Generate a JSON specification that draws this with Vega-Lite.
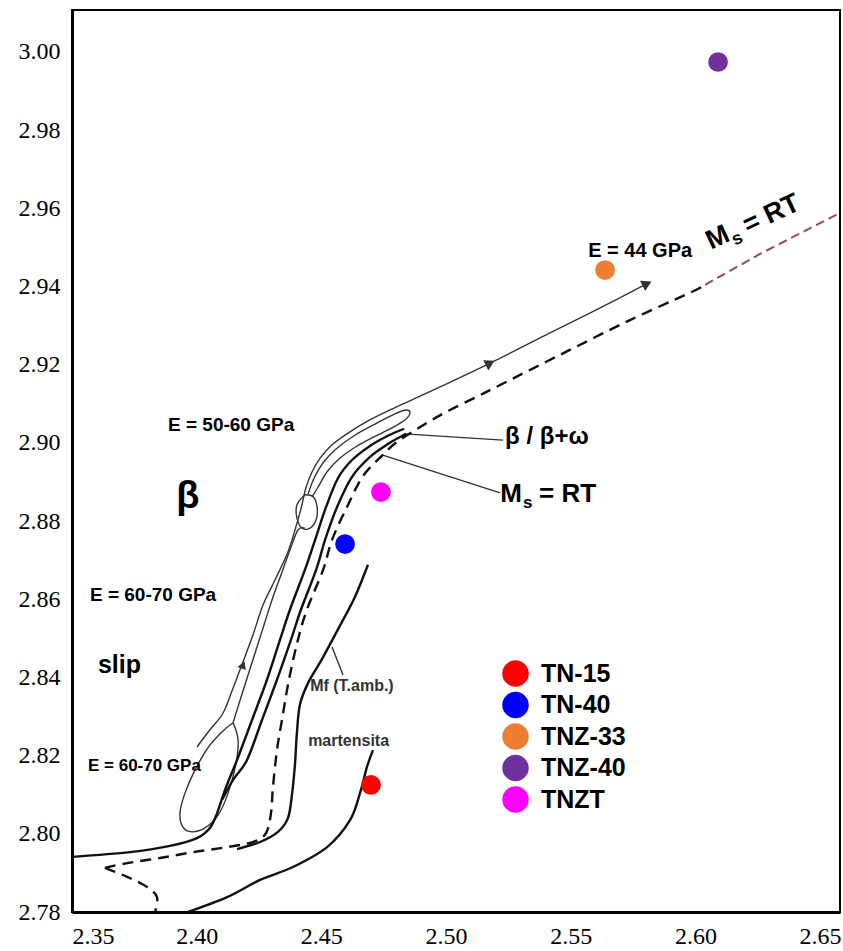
{
  "$schema": "https://vega.github.io/schema/vega-lite/v6.json",
  "width": 768,
  "height": 902,
  "autosize": {"type": "none"},
  "padding": {"left": 72, "top": 10, "right": 3, "bottom": 39},
  "background": "white",
  "config": {
    "view": {"stroke": "black", "strokeWidth": 2},
    "axis": {"grid": false, "ticks": false, "domainColor": "black", "domainWidth": 3, "labelFont": "Liberation Serif", "labelFontSize": 24, "labelColor": "black", "labelPadding": 12, "title": null}
  },
  "datasets": {
    "thick": [
      {"c": "T1", "i": 0, "x": 2.3500, "y": 2.7941}, {"c": "T1", "i": 1, "x": 2.3733, "y": 2.7953}, {"c": "T1", "i": 2, "x": 2.3893, "y": 2.7969}, {"c": "T1", "i": 3, "x": 2.4001, "y": 2.7989}, {"c": "T1", "i": 4, "x": 2.4053, "y": 2.8015}, {"c": "T1", "i": 5, "x": 2.4082, "y": 2.8053}, {"c": "T1", "i": 6, "x": 2.4118, "y": 2.8120}, {"c": "T1", "i": 7, "x": 2.4162, "y": 2.8189}, {"c": "T1", "i": 8, "x": 2.4222, "y": 2.8291}, {"c": "T1", "i": 9, "x": 2.4282, "y": 2.8394}, {"c": "T1", "i": 10, "x": 2.4334, "y": 2.8496}, {"c": "T1", "i": 11, "x": 2.4374, "y": 2.8573}, {"c": "T1", "i": 12, "x": 2.4434, "y": 2.8675}, {"c": "T1", "i": 13, "x": 2.4475, "y": 2.8752}, {"c": "T1", "i": 14, "x": 2.4519, "y": 2.8836}, {"c": "T1", "i": 15, "x": 2.4567, "y": 2.8910}, {"c": "T1", "i": 16, "x": 2.4623, "y": 2.8956}, {"c": "T1", "i": 17, "x": 2.4695, "y": 2.8992}, {"c": "T1", "i": 18, "x": 2.4767, "y": 2.9018}, {"c": "T1", "i": 19, "x": 2.4832, "y": 2.9036},
      {"c": "T2", "i": 0, "x": 2.4102, "y": 2.8087}, {"c": "T2", "i": 1, "x": 2.4146, "y": 2.8138}, {"c": "T2", "i": 2, "x": 2.4202, "y": 2.8189}, {"c": "T2", "i": 3, "x": 2.4262, "y": 2.8291}, {"c": "T2", "i": 4, "x": 2.4322, "y": 2.8394}, {"c": "T2", "i": 5, "x": 2.4378, "y": 2.8496}, {"c": "T2", "i": 6, "x": 2.4418, "y": 2.8573}, {"c": "T2", "i": 7, "x": 2.4479, "y": 2.8675}, {"c": "T2", "i": 8, "x": 2.4515, "y": 2.8752}, {"c": "T2", "i": 9, "x": 2.4563, "y": 2.8836}, {"c": "T2", "i": 10, "x": 2.4623, "y": 2.8913}, {"c": "T2", "i": 11, "x": 2.4695, "y": 2.8964}, {"c": "T2", "i": 12, "x": 2.4767, "y": 2.8997}, {"c": "T2", "i": 13, "x": 2.4816, "y": 2.9015}, {"c": "T2", "i": 14, "x": 2.4840, "y": 2.9023},
      {"c": "Mf", "i": 0, "x": 2.4162, "y": 2.7961}, {"c": "Mf", "i": 1, "x": 2.4254, "y": 2.7979}, {"c": "Mf", "i": 2, "x": 2.4326, "y": 2.8005}, {"c": "Mf", "i": 3, "x": 2.4366, "y": 2.8040}, {"c": "Mf", "i": 4, "x": 2.4382, "y": 2.8099}, {"c": "Mf", "i": 5, "x": 2.4394, "y": 2.8176}, {"c": "Mf", "i": 6, "x": 2.4402, "y": 2.8258}, {"c": "Mf", "i": 7, "x": 2.4414, "y": 2.8330}, {"c": "Mf", "i": 8, "x": 2.4447, "y": 2.8386}, {"c": "Mf", "i": 9, "x": 2.4507, "y": 2.8452}, {"c": "Mf", "i": 10, "x": 2.4587, "y": 2.8547}, {"c": "Mf", "i": 11, "x": 2.4635, "y": 2.8606}, {"c": "Mf", "i": 12, "x": 2.4687, "y": 2.8688},
      {"c": "Mart", "i": 0, "x": 2.3965, "y": 2.7800}, {"c": "Mart", "i": 1, "x": 2.4122, "y": 2.7838}, {"c": "Mart", "i": 2, "x": 2.4254, "y": 2.7882}, {"c": "Mart", "i": 3, "x": 2.4386, "y": 2.7915}, {"c": "Mart", "i": 4, "x": 2.4523, "y": 2.7966}, {"c": "Mart", "i": 5, "x": 2.4615, "y": 2.8035}, {"c": "Mart", "i": 6, "x": 2.4655, "y": 2.8104}, {"c": "Mart", "i": 7, "x": 2.4683, "y": 2.8171}, {"c": "Mart", "i": 8, "x": 2.4707, "y": 2.8214}
    ],
    "thin": [
      {"c": "L1", "i": 0, "x": 2.4001, "y": 2.8222}, {"c": "L1", "i": 1, "x": 2.4053, "y": 2.8266}, {"c": "L1", "i": 2, "x": 2.4106, "y": 2.8309}, {"c": "L1", "i": 3, "x": 2.4146, "y": 2.8373}, {"c": "L1", "i": 4, "x": 2.4186, "y": 2.8440}, {"c": "L1", "i": 5, "x": 2.4226, "y": 2.8509}, {"c": "L1", "i": 6, "x": 2.4266, "y": 2.8585}, {"c": "L1", "i": 7, "x": 2.4314, "y": 2.8649}, {"c": "L1", "i": 8, "x": 2.4366, "y": 2.8721}, {"c": "L1", "i": 9, "x": 2.4398, "y": 2.8785}, {"c": "L1", "i": 10, "x": 2.4422, "y": 2.8841}, {"c": "L1", "i": 11, "x": 2.4438, "y": 2.8885}, {"c": "L1", "i": 12, "x": 2.4463, "y": 2.8926}, {"c": "L1", "i": 13, "x": 2.4495, "y": 2.8961}, {"c": "L1", "i": 14, "x": 2.4543, "y": 2.8995}, {"c": "L1", "i": 15, "x": 2.4607, "y": 2.9025}, {"c": "L1", "i": 16, "x": 2.4687, "y": 2.9056}, {"c": "L1", "i": 17, "x": 2.4775, "y": 2.9084}, {"c": "L1", "i": 18, "x": 2.4864, "y": 2.9110}, {"c": "L1", "i": 19, "x": 2.4976, "y": 2.9143}, {"c": "L1", "i": 20, "x": 2.5177, "y": 2.9204}, {"c": "L1", "i": 21, "x": 2.5417, "y": 2.9281}, {"c": "L1", "i": 22, "x": 2.5618, "y": 2.9345}, {"c": "L1", "i": 23, "x": 2.5806, "y": 2.9407},
      {"c": "L2", "i": 0, "x": 2.4146, "y": 2.8284}, {"c": "L2", "i": 1, "x": 2.4174, "y": 2.8342}, {"c": "L2", "i": 2, "x": 2.4206, "y": 2.8406}, {"c": "L2", "i": 3, "x": 2.4238, "y": 2.8470}, {"c": "L2", "i": 4, "x": 2.4270, "y": 2.8534}, {"c": "L2", "i": 5, "x": 2.4302, "y": 2.8598}, {"c": "L2", "i": 6, "x": 2.4338, "y": 2.8662}, {"c": "L2", "i": 7, "x": 2.4374, "y": 2.8726}, {"c": "L2", "i": 8, "x": 2.4406, "y": 2.8777}, {"c": "L2", "i": 9, "x": 2.4434, "y": 2.8782},
      {"c": "E1", "i": 0, "x": 2.4146, "y": 2.8284}, {"c": "E1", "i": 1, "x": 2.4102, "y": 2.8261}, {"c": "E1", "i": 2, "x": 2.4045, "y": 2.8220}, {"c": "E1", "i": 3, "x": 2.3993, "y": 2.8163}, {"c": "E1", "i": 4, "x": 2.3953, "y": 2.8104}, {"c": "E1", "i": 5, "x": 2.3933, "y": 2.8053}, {"c": "E1", "i": 6, "x": 2.3945, "y": 2.8017}, {"c": "E1", "i": 7, "x": 2.3981, "y": 2.8005}, {"c": "E1", "i": 8, "x": 2.4033, "y": 2.8015}, {"c": "E1", "i": 9, "x": 2.4086, "y": 2.8048}, {"c": "E1", "i": 10, "x": 2.4126, "y": 2.8104}, {"c": "E1", "i": 11, "x": 2.4158, "y": 2.8181}, {"c": "E1", "i": 12, "x": 2.4166, "y": 2.8240}, {"c": "E1", "i": 13, "x": 2.4146, "y": 2.8284},
      {"c": "E2", "i": 0, "x": 2.4434, "y": 2.8867}, {"c": "E2", "i": 1, "x": 2.4467, "y": 2.8862}, {"c": "E2", "i": 2, "x": 2.4483, "y": 2.8836}, {"c": "E2", "i": 3, "x": 2.4479, "y": 2.8803}, {"c": "E2", "i": 4, "x": 2.4455, "y": 2.8782}, {"c": "E2", "i": 5, "x": 2.4422, "y": 2.8782}, {"c": "E2", "i": 6, "x": 2.4402, "y": 2.8808}, {"c": "E2", "i": 7, "x": 2.4402, "y": 2.8841}, {"c": "E2", "i": 8, "x": 2.4434, "y": 2.8867},
      {"c": "LP", "i": 0, "x": 2.4447, "y": 2.8869}, {"c": "LP", "i": 1, "x": 2.4471, "y": 2.8910}, {"c": "LP", "i": 2, "x": 2.4507, "y": 2.8949}, {"c": "LP", "i": 3, "x": 2.4559, "y": 2.8984}, {"c": "LP", "i": 4, "x": 2.4631, "y": 2.9018}, {"c": "LP", "i": 5, "x": 2.4715, "y": 2.9048}, {"c": "LP", "i": 6, "x": 2.4795, "y": 2.9074}, {"c": "LP", "i": 7, "x": 2.4840, "y": 2.9084}, {"c": "LP", "i": 8, "x": 2.4856, "y": 2.9077}, {"c": "LP", "i": 9, "x": 2.4836, "y": 2.9059}, {"c": "LP", "i": 10, "x": 2.4783, "y": 2.9038}, {"c": "LP", "i": 11, "x": 2.4711, "y": 2.9015}, {"c": "LP", "i": 12, "x": 2.4639, "y": 2.8990}, {"c": "LP", "i": 13, "x": 2.4575, "y": 2.8961}, {"c": "LP", "i": 14, "x": 2.4523, "y": 2.8926}, {"c": "LP", "i": 15, "x": 2.4487, "y": 2.8887}, {"c": "LP", "i": 16, "x": 2.4463, "y": 2.8862},
      {"c": "P1", "i": 0, "x": 2.4832, "y": 2.9023}, {"c": "P1", "i": 1, "x": 2.5229, "y": 2.9007},
      {"c": "P2", "i": 0, "x": 2.4743, "y": 2.8969}, {"c": "P2", "i": 1, "x": 2.5217, "y": 2.8872},
      {"c": "P3", "i": 0, "x": 2.4587, "y": 2.8406}, {"c": "P3", "i": 1, "x": 2.4543, "y": 2.8478}
    ],
    "dash": [
      {"c": "D", "i": 0, "x": 2.3632, "y": 2.7913}, {"c": "D", "i": 1, "x": 2.3721, "y": 2.7925}, {"c": "D", "i": 2, "x": 2.3853, "y": 2.7938}, {"c": "D", "i": 3, "x": 2.3985, "y": 2.7953}, {"c": "D", "i": 4, "x": 2.4122, "y": 2.7966}, {"c": "D", "i": 5, "x": 2.4226, "y": 2.7979}, {"c": "D", "i": 6, "x": 2.4278, "y": 2.8002}, {"c": "D", "i": 7, "x": 2.4298, "y": 2.8053}, {"c": "D", "i": 8, "x": 2.4306, "y": 2.8120}, {"c": "D", "i": 9, "x": 2.4322, "y": 2.8214}, {"c": "D", "i": 10, "x": 2.4342, "y": 2.8291}, {"c": "D", "i": 11, "x": 2.4370, "y": 2.8394}, {"c": "D", "i": 12, "x": 2.4406, "y": 2.8496}, {"c": "D", "i": 13, "x": 2.4442, "y": 2.8573}, {"c": "D", "i": 14, "x": 2.4507, "y": 2.8675}, {"c": "D", "i": 15, "x": 2.4543, "y": 2.8752}, {"c": "D", "i": 16, "x": 2.4603, "y": 2.8836}, {"c": "D", "i": 17, "x": 2.4667, "y": 2.8915}, {"c": "D", "i": 18, "x": 2.4747, "y": 2.8969}, {"c": "D", "i": 19, "x": 2.4803, "y": 2.9002}, {"c": "D", "i": 20, "x": 2.4924, "y": 2.9051}, {"c": "D", "i": 21, "x": 2.5016, "y": 2.9084}, {"c": "D", "i": 22, "x": 2.5124, "y": 2.9118}, {"c": "D", "i": 23, "x": 2.5217, "y": 2.9148}, {"c": "D", "i": 24, "x": 2.5457, "y": 2.9225}, {"c": "D", "i": 25, "x": 2.5738, "y": 2.9314}, {"c": "D", "i": 26, "x": 2.5979, "y": 2.9384}, {"c": "D", "i": 27, "x": 2.6039, "y": 2.9404},
      {"c": "Dlow", "i": 0, "x": 2.3632, "y": 2.7913}, {"c": "Dlow", "i": 1, "x": 2.3721, "y": 2.7890}, {"c": "Dlow", "i": 2, "x": 2.3801, "y": 2.7864}, {"c": "Dlow", "i": 3, "x": 2.3841, "y": 2.7838}, {"c": "Dlow", "i": 4, "x": 2.3833, "y": 2.7800}
    ],
    "brown": [
      {"c": "Db", "i": 0, "x": 2.6039, "y": 2.9404}, {"c": "Db", "i": 1, "x": 2.6259, "y": 2.9483}, {"c": "Db", "i": 2, "x": 2.6580, "y": 2.9588}
    ],
    "samples": [
      {"sample": "TN-15", "x": 2.4699, "y": 2.8125},
      {"sample": "TN-40", "x": 2.4595, "y": 2.8741},
      {"sample": "TNZ-33", "x": 2.5638, "y": 2.9442},
      {"sample": "TNZ-40", "x": 2.6091, "y": 2.9974},
      {"sample": "TNZT", "x": 2.4739, "y": 2.8874}
    ]
  },
  "encoding": {
    "x": {"field": "x", "type": "quantitative", "scale": {"domain": [2.35, 2.658], "nice": false, "zero": false}, "axis": {"values": [2.35, 2.4, 2.45, 2.5, 2.55, 2.6, 2.65], "format": ".2f", "title": null}},
    "y": {"field": "y", "type": "quantitative", "scale": {"domain": [2.78, 3.0107], "nice": false, "zero": false}, "axis": {"values": [2.78, 2.8, 2.82, 2.84, 2.86, 2.88, 2.9, 2.92, 2.94, 2.96, 2.98, 3.0], "format": ".2f", "title": null}}
  },
  "layer": [
    {"data": {"name": "thin"}, "mark": {"type": "line", "interpolate": "cardinal", "stroke": "#333333", "strokeWidth": 1.4}, "encoding": {"detail": {"field": "c"}, "order": {"field": "i", "type": "quantitative"}}},
    {"data": {"name": "thick"}, "mark": {"type": "line", "interpolate": "cardinal", "stroke": "#111111", "strokeWidth": 2.4}, "encoding": {"detail": {"field": "c"}, "order": {"field": "i", "type": "quantitative"}}},
    {"data": {"name": "dash"}, "mark": {"type": "line", "interpolate": "cardinal", "stroke": "#111111", "strokeWidth": 2.4, "strokeDash": [11, 7]}, "encoding": {"detail": {"field": "c"}, "order": {"field": "i", "type": "quantitative"}}},
    {"data": {"name": "brown"}, "mark": {"type": "line", "stroke": "#8f5050", "strokeWidth": 2, "strokeDash": [9, 5]}, "encoding": {"detail": {"field": "c"}, "order": {"field": "i", "type": "quantitative"}}},
    {"data": {"values": [{"x": 2.5806, "y": 2.9407}, {"x": 2.5177, "y": 2.9204}]}, "mark": {"type": "point", "shape": "triangle-right", "angle": -27, "size": 130, "filled": true, "color": "#333333", "opacity": 1}},
    {"data": {"values": [{"x": 2.4186, "y": 2.8432}]}, "mark": {"type": "point", "shape": "triangle-right", "angle": -69, "size": 80, "filled": true, "color": "#333333", "opacity": 1}},
    {"data": {"name": "samples"}, "mark": {"type": "point", "filled": true, "opacity": 1, "size": 390, "strokeWidth": 0},
     "encoding": {"color": {"field": "sample", "type": "nominal",
       "scale": {"domain": ["TN-15", "TN-40", "TNZ-33", "TNZ-40", "TNZT"], "range": ["#ff0000", "#0000ff", "#ed7d31", "#7030a0", "#ff00ff"]},
       "legend": {"title": null, "orient": "none", "legendX": 430, "legendY": 650, "padding": 0, "symbolType": "circle", "symbolSize": 700, "symbolStrokeWidth": 0, "symbolOpacity": 1, "labelFont": "Liberation Sans", "labelFontSize": 25, "labelFontWeight": "bold", "labelColor": "black", "labelOffset": 12, "rowPadding": 4.5}}}},
    {"data": {"values": [{"t": "E = 50-60 GPa", "x": 2.3885, "y": 2.9046}, {"t": "E = 60-70 GPa", "x": 2.3572, "y": 2.8611}]}, "mark": {"type": "text", "font": "Liberation Sans", "fontWeight": "bold", "fontSize": 19, "align": "left", "baseline": "middle", "color": "black"}, "encoding": {"text": {"field": "t"}}},
    {"data": {"values": [{"t": "E = 60-70 GPa", "x": 2.3564, "y": 2.8174}]}, "mark": {"type": "text", "font": "Liberation Sans", "fontWeight": "bold", "fontSize": 17, "align": "left", "baseline": "middle", "color": "black"}, "encoding": {"text": {"field": "t"}}},
    {"data": {"values": [{"t": "β", "x": 2.3965, "y": 2.8834}]}, "mark": {"type": "text", "font": "Liberation Sans", "fontWeight": "bold", "fontSize": 38, "align": "center", "baseline": "alphabetic", "color": "black"}, "encoding": {"text": {"field": "t"}}},
    {"data": {"values": [{"t": "slip", "x": 2.3604, "y": 2.8411}]}, "mark": {"type": "text", "font": "Liberation Sans", "fontWeight": "bold", "fontSize": 25, "align": "left", "baseline": "alphabetic", "color": "black"}, "encoding": {"text": {"field": "t"}}},
    {"data": {"values": [{"t": "martensita", "x": 2.4447, "y": 2.8237}, {"t": "Mf (T.amb.)", "x": 2.4455, "y": 2.8378}]}, "mark": {"type": "text", "font": "Liberation Sans", "fontWeight": "bold", "fontSize": 16, "align": "left", "baseline": "middle", "color": "#333333"}, "encoding": {"text": {"field": "t"}}},
    {"data": {"values": [{"t": "β / β+ω", "x": 2.5237, "y": 2.9015}]}, "mark": {"type": "text", "font": "Liberation Sans", "fontWeight": "bold", "fontSize": 24, "align": "left", "baseline": "middle", "color": "black"}, "encoding": {"text": {"field": "t"}}},
    {"data": {"values": [{"t": "M", "x": 2.5217, "y": 2.8849}, {"t": "= RT", "x": 2.5373, "y": 2.8849}]}, "mark": {"type": "text", "font": "Liberation Sans", "fontWeight": "bold", "fontSize": 26, "align": "left", "baseline": "alphabetic", "color": "black"}, "encoding": {"text": {"field": "t"}}},
    {"data": {"values": [{"t": "s", "x": 2.5309, "y": 2.8834}]}, "mark": {"type": "text", "font": "Liberation Sans", "fontWeight": "bold", "fontSize": 17, "align": "left", "baseline": "alphabetic", "color": "black"}, "encoding": {"text": {"field": "t"}}},
    {"data": {"values": [{"t": "E = 44 GPa", "x": 2.5570, "y": 2.9491}]}, "mark": {"type": "text", "font": "Liberation Sans", "fontWeight": "bold", "fontSize": 20, "align": "left", "baseline": "middle", "color": "black"}, "encoding": {"text": {"field": "t"}}},
    {"data": {"values": [{"t": "M", "x": 2.6063, "y": 2.9494}, {"t": "= RT", "x": 2.6211, "y": 2.9534}]}, "mark": {"type": "text", "font": "Liberation Sans", "fontWeight": "bold", "fontSize": 27, "align": "left", "baseline": "alphabetic", "angle": -25, "color": "black"}, "encoding": {"text": {"field": "t"}}},
    {"data": {"values": [{"t": "s", "x": 2.6159, "y": 2.9504}]}, "mark": {"type": "text", "font": "Liberation Sans", "fontWeight": "bold", "fontSize": 18, "align": "left", "baseline": "alphabetic", "angle": -25, "color": "black"}, "encoding": {"text": {"field": "t"}}}
  ]
}
